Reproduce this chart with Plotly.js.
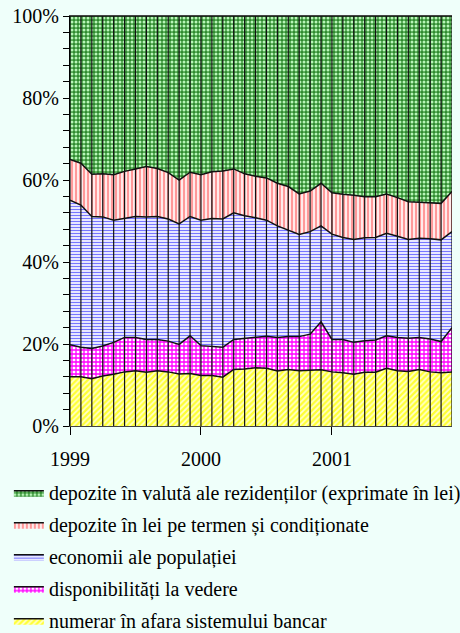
<!DOCTYPE html>
<html><head><meta charset="utf-8">
<script src="https://cdn.plot.ly/plotly-3.0.1.min.js"></script>
<style>html,body{margin:0;padding:0;background:#effffa;}</style>
</head><body><div id="chart" style="width:460px;height:633px;"></div>
<script>
const months = ['1999-01','1999-02','1999-03','1999-04','1999-05','1999-06','1999-07','1999-08','1999-09','1999-10','1999-11','1999-12',
'2000-01','2000-02','2000-03','2000-04','2000-05','2000-06','2000-07','2000-08','2000-09','2000-10','2000-11','2000-12',
'2001-01','2001-02','2001-03','2001-04','2001-05','2001-06','2001-07','2001-08','2001-09','2001-10','2001-11','2001-12'];
const yearTicks = ['1999-01','2000-01','2001-01'];
const yearLabels = ['1999','2000','2001'];
const yTickVals = [0,20,40,60,80,100];
const yTickLabels = ['0%','20%','40%','60%','80%','100%'];

const numerar = [12.0,12.0,11.5,12.2,12.6,13.2,13.5,13.1,13.5,13.2,12.7,12.8,
 12.3,12.3,11.9,13.8,13.9,14.2,14.1,13.4,13.8,13.5,13.6,13.7,
 13.2,13.0,12.6,13.1,13.1,14.1,13.5,13.3,13.8,13.2,13.0,13.2];
const disponibilitati = [7.8,7.2,7.4,7.3,7.8,8.4,8.1,8.0,7.6,7.5,7.2,9.2,
 7.3,7.1,7.3,7.3,7.5,7.4,7.8,8.2,8.0,8.3,8.8,11.7,
 7.9,8.1,7.8,7.7,7.9,7.9,8.1,8.1,7.8,8.0,7.6,10.8];
const economii = [35.3,34.7,32.2,31.5,29.8,29.1,29.5,29.9,30.0,29.8,29.4,29.1,
 30.6,31.2,31.3,30.9,29.9,29.2,28.3,27.2,26.0,24.9,25.0,23.4,
 25.7,24.9,25.1,25.1,25.0,25.0,24.7,24.1,24.2,24.5,24.8,23.4];
const depoziteLei = [9.9,10.2,10.3,10.5,11.1,11.4,11.6,12.3,11.7,11.3,10.7,10.8,
 11.1,11.4,11.7,10.7,10.2,10.1,10.3,10.4,10.6,9.9,9.9,10.4,
 10.1,10.5,10.8,10.0,9.9,9.6,9.4,9.2,8.8,8.8,8.9,9.8];
const depoziteValuta = [35.0,35.9,38.6,38.5,38.7,37.9,37.3,36.7,37.2,38.2,40.0,38.1,
 38.7,38.0,37.8,37.3,38.5,39.1,39.5,40.8,41.6,43.4,42.7,40.8,
 43.1,43.5,43.7,44.1,44.1,43.4,44.3,45.3,45.4,45.5,45.7,42.8];

const names = ['numerar în afara sistemului bancar','disponibilități la vedere','economii ale populației',
 'depozite în lei pe termen și condiționate','depozite în valută ale rezidenților (exprimate în lei)'];
const series = [numerar, disponibilitati, economii, depoziteLei, depoziteValuta];
const patterns = [
 {shape:'/', bgcolor:'#ffff33', fgcolor:'#ffffcc', size:4, solidity:0.45},
 {shape:'+', bgcolor:'#ffffff', fgcolor:'#ff00ff', size:4, solidity:0.55},
 {shape:'-', bgcolor:'#ffffff', fgcolor:'#7777ff', size:3, solidity:0.45},
 {shape:'|', bgcolor:'#ffffff', fgcolor:'#ff9999', size:4, solidity:0.6},
 {shape:'.', bgcolor:'#2e8b2e', fgcolor:'#b8f5b8', size:4, solidity:0.45}
];

const traces = series.map((s,i)=>({
  x: months, y: s, name: names[i], type:'scatter', mode:'lines', stackgroup:'one',
  line:{color:'#111', width:1.5}, fillcolor: patterns[i].bgcolor,
  fillpattern: Object.assign({fillmode:'replace'}, patterns[i]),
  legendgroup: 'g'+i, legendrank: series.length - i, hoverinfo:'skip'
}));

const vx = [], vy = [];
months.forEach(m=>{ vx.push(m,m,null); vy.push(0,100,null); });
traces.push({x:vx, y:vy, type:'scatter', mode:'lines', line:{color:'#111', width:1.2},
  showlegend:false, hoverinfo:'skip'});

const font = {family:'Liberation Serif, Times New Roman, serif', size:20, color:'#000'};
const layout = {
  width:460, height:633,
  margin:{l:70, r:8, t:16, b:207, autoexpand:false},
  paper_bgcolor:'#effffa', plot_bgcolor:'#effffa',
  font: font,
  showlegend:true,
  legend:{x:-0.16, xanchor:'left', y:-0.115, yanchor:'top', traceorder:'grouped',
    tracegroupgap:3, font:font, bgcolor:'rgba(0,0,0,0)'},
  xaxis:{type:'category', range:[0,35], tickvals:yearTicks, ticktext:yearLabels,
    ticks:'outside', ticklen:8, tickcolor:'#000', showline:true, linecolor:'#444', mirror:true,
    showgrid:false, zeroline:false, ticklabelstandoff:7, automargin:false},
  yaxis:{range:[0,100], tickmode:'array', tickvals:yTickVals, ticktext:yTickLabels, ticks:'outside', ticklen:6,
    tickcolor:'#000', showline:true, linecolor:'#000', showgrid:false, zeroline:false, automargin:false,
    minor:{dtick:4, ticks:'outside', ticklen:6, tickcolor:'#000'}}
};
Plotly.newPlot('chart', traces, layout, {displayModeBar:false, staticPlot:true});
</script></body></html>
